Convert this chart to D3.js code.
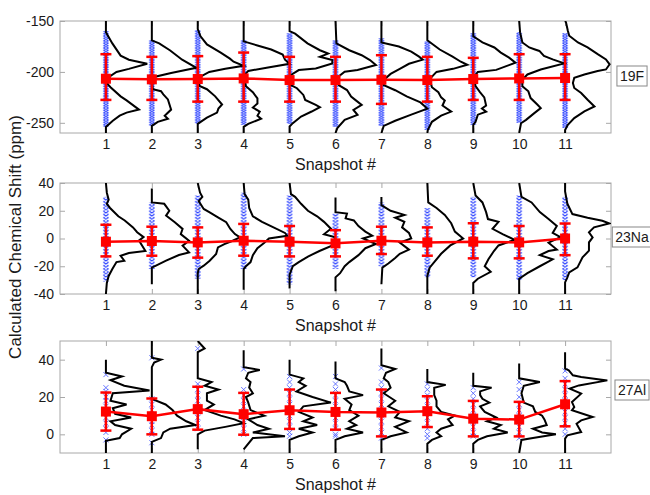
<!DOCTYPE html>
<html><head><meta charset="utf-8">
<script src="https://cdn.jsdelivr.net/npm/d3@7"></script>
<style>body{margin:0;background:#fff}text{font-family:"Liberation Sans",Arial,Helvetica,sans-serif}</style>
</head><body><svg id="c" width="650" height="495"></svg>
<script>
// ---------- DATA ----------
const snapshots = [1,2,3,4,5,6,7,8,9,10,11];
const xTickLabels = ["1","2","3","4","5","6","7","8","9","10","11"];
const xLabel = "Snapshot #";
const yLabel = "Calculated Chemical Shift (ppm)";
const nucleusLabels = ["19F","23Na","27Al"];
const yTicksF = [-150,-200,-250];
const yTicksNa = [40,20,0,-20,-40];
const yTicksAl = [0,20,40];

// 19F
const meanF  = [-206.7,-207.3,-207,-206.4,-208,-208,-207.7,-208,-207,-206.4,-206];
const errHiF = [-182.6,-185.2,-184.5,-181,-185.2,-185.2,-183.6,-185.2,-186.2,-182.6,-182.6];
const errLoF = [-227.5,-227.5,-229.2,-229.2,-229.2,-229.2,-231.4,-229.2,-227.5,-227.5,-227.5];
const blueTopF = [-160,-169,-159,-169,-162,-169,-167,-170,-162,-161,-162];
const blueBotF = [-254,-253,-251,-252,-251,-254,-253,-257,-252,-250,-255];
const histF = [
 [[-150,0],[-161,0],[-172,0.14],[-184,0.32],[-188,0.5],[-192,0.9],[-197,0.5],[-200,0.23],[-204,0.1],[-210,0],[-215,0.1],[-224,0.32],[-228,0.45],[-237,0.72],[-240,0.45],[-243,0.3],[-248,0.15],[-254,0],[-260,0]],
 [[-150,0],[-169,0],[-172,0.16],[-179,0.4],[-188,0.66],[-196,0.97],[-201,0.42],[-205,0.05],[-208,0],[-217,0.02],[-219,0.2],[-222,0.25],[-227,0.35],[-237,0.42],[-243,0.28],[-246,0.35],[-249,0.13],[-253,0],[-260,0]],
 [[-150,0],[-158,0],[-165,0.06],[-173,0.2],[-181,0.5],[-187,0.7],[-190,0.78],[-194,1.0],[-197,0.6],[-200,0.25],[-205,0.05],[-210,0],[-214,0.05],[-217,0.2],[-224,0.38],[-232,0.53],[-236,0.45],[-240,0.42],[-245,0.2],[-251,0],[-260,0]],
 [[-150,0],[-170,0],[-174,0.3],[-178,0.6],[-183,0.85],[-188,0.9],[-192,1.0],[-196,0.5],[-199,0.1],[-204,0],[-214,0.05],[-220,0.2],[-226,0.3],[-231,0.3],[-235,0.2],[-239,0.35],[-243,0.3],[-246,0.38],[-251,0.1],[-254,0],[-260,0]],
 [[-150,0],[-160,0],[-162.4,0.12],[-172,0.39],[-178.7,0.66],[-182,0.84],[-185.2,0.66],[-188.4,0.93],[-191.7,0.93],[-196.6,0.57],[-198.2,0.2],[-203,0.03],[-212.9,0.03],[-216,0.16],[-222.6,0.3],[-227.5,0.34],[-232.4,0.57],[-234.7,0.66],[-238.9,0.48],[-243.8,0.25],[-250.3,0.07],[-253.6,0],[-260,0]],
 [[-150,0],[-172,0.02],[-178.7,0.3],[-183.6,0.57],[-188.4,0.75],[-193.3,0.88],[-198.2,0.48],[-199.8,0.2],[-205.4,0.04],[-212.9,0.07],[-217.8,0.25],[-224.3,0.34],[-227.5,0.43],[-232.4,0.57],[-237.3,0.39],[-242.2,0.48],[-247.1,0.2],[-255.2,0.04],[-260,0]],
 [[-150,0],[-171,0],[-175,0.38],[-180,0.65],[-185,0.82],[-188,0.9],[-192,0.6],[-197,0.4],[-202,0.2],[-208,0.05],[-213,0.05],[-218,0.3],[-224,0.55],[-230,0.85],[-236,1.0],[-242,0.65],[-248,0.3],[-253,0.05],[-260,0]],
 [[-150,0],[-169,0],[-178,0.27],[-185,0.55],[-190,0.73],[-193,0.87],[-197,0.56],[-200,0.2],[-207,0.05],[-215,0.1],[-220,0.24],[-225,0.3],[-228,0.38],[-233,0.33],[-239,0.52],[-243,0.3],[-249,0.1],[-257,0.01],[-260,0]],
 [[-150,0],[-165,0],[-171,0.2],[-176,0.46],[-181,0.6],[-186,0.78],[-191,0.92],[-198,0.5],[-200,0.1],[-205,0.01],[-214,0.05],[-220,0.15],[-225,0.24],[-233,0.28],[-236,0.19],[-239,0.28],[-242,0.1],[-249,0.05],[-252,0],[-260,0]],
 [[-150,0],[-161.2,0.02],[-171.1,0.07],[-176,0.22],[-177.7,0.33],[-179.4,0.44],[-184.3,0.54],[-187.7,0.73],[-191.6,0.98],[-197.6,0.47],[-202.5,0.18],[-207.5,0.07],[-214.1,0.07],[-219.1,0.2],[-225.7,0.25],[-232.3,0.4],[-235.6,0.47],[-240.5,0.33],[-247.1,0.15],[-250.4,0.04],[-260,0]],
 [[-150,0],[-151.3,0.02],[-159.6,0.06],[-164.5,0.09],[-171.1,0.28],[-176,0.49],[-182.6,0.71],[-187.7,0.89],[-192.6,0.97],[-197.6,0.89],[-199.2,0.71],[-202.5,0.42],[-205.8,0.2],[-210.8,0.17],[-215.8,0.2],[-220.7,0.35],[-227.3,0.49],[-233.9,0.64],[-238.8,0.42],[-245.4,0.2],[-252,0.06],[-257,0],[-260,0]]
];

// 23Na
const meanNa  = [-2.3,-1.8,-2.8,-1.6,-2.3,-3.5,-1.6,-2.8,-2.3,-2.8,0];
const errHiNa = [9.9,8.5,8,10.5,9,6,8.5,8,11,9,10.8];
const errLoNa = [-12.9,-12.4,-13.8,-12.4,-12.9,-12.9,-11.2,-12.4,-14.3,-14.3,-12];
const blueTopNa = [30,26,31,33,31,18,26,22,30,31,30];
const blueBotNa = [-31,-22,-29,-22,-33,-22,-20,-28,-28,-30,-30];
const histNa = [
 [[40,0],[33,0.02],[28,0.06],[25,0.02],[22,0.09],[16,0.27],[13,0.41],[8,0.59],[4.5,0.68],[1,0.82],[-1.5,0.72],[-9,0.86],[-10.5,0.5],[-12.5,0.32],[-16,0.4],[-17,0.23],[-22,0.14],[-27,0.06],[-32,0.02],[-40,0]],
 [[36,0],[26,0],[25,0.27],[20,0.38],[16.5,0.31],[11.7,0.5],[6.9,0.67],[3.2,0.63],[-1.6,0.81],[-5.2,0.67],[-10,0.81],[-11.9,0.59],[-16,0.31],[-19.6,0.09],[-21,0],[-33,0]],
 [[40,0],[33,0.05],[30,0.1],[27,0.02],[21.3,0.13],[18.9,0.26],[15.3,0.44],[11.7,0.62],[6.9,0.71],[3.2,0.81],[0.8,0.92],[-1.6,0.76],[-4,0.58],[-6.4,0.44],[-11.2,0.4],[-16,0.26],[-19.6,0.13],[-22,0.02],[-25,0],[-40,0]],
 [[40,0],[32,0.02],[28,0.1],[22,0.12],[16,0.2],[12,0.4],[8,0.65],[4,0.9],[2,0.95],[0,0.55],[-3,0.45],[-7,0.3],[-12,0.2],[-17,0.15],[-20,0.05],[-22,0],[-37,0]],
 [[40,0],[32,0.03],[30,0.12],[25,0.25],[20,0.4],[16,0.6],[12,0.75],[7,0.9],[3,0.75],[1,0.98],[-4,1.0],[-9,0.65],[-13,0.4],[-17,0.2],[-20,0.07],[-26,0],[-36,0]],
 [[29.5,0],[19,0],[18,0.25],[14.5,0.22],[13,0.4],[9,0.5],[5,0.65],[2,0.8],[0,0.6],[-4,0.88],[-7,0.65],[-12,0.5],[-17,0.3],[-20,0.2],[-25,0.1],[-28,0],[-38,0]],
 [[30,0],[24,0],[20,0.2],[17,0.5],[15,0.3],[12,0.5],[8,0.45],[4,0.6],[0,0.65],[-3,0.4],[-8,0.6],[-11,0.4],[-14,0.3],[-18,0.15],[-21,0.02],[-33,0]],
 [[40,0],[26,0.02],[22,0.2],[17,0.38],[11,0.52],[5,0.6],[0,0.78],[-5,0.5],[-11,0.3],[-17,0.15],[-21,0.05],[-27,0],[-40,0]],
 [[40,0],[31,0.05],[26,0.2],[19,0.28],[14,0.32],[12,0.55],[7,0.42],[3,0.65],[-1,0.9],[-5,0.55],[-9,0.45],[-15,0.33],[-20,0.25],[-24,0.38],[-29,0.1],[-32,0],[-40,0]],
 [[40,0],[30,0.05],[26,0.27],[19,0.45],[14,0.64],[9,0.82],[4,0.73],[1,0.9],[-3,0.64],[-8,0.82],[-9,0.64],[-12,0.45],[-15,0.73],[-20,0.45],[-25,0.18],[-29,0],[-40,0]],
 [[40,0],[34,0],[25,0.05],[17.6,0.16],[15,0.49],[12.8,0.81],[10.9,0.96],[8,0.63],[4.4,0.52],[0.8,0.6],[-2.8,0.52],[-8.8,0.52],[-13.6,0.38],[-20.8,0.27],[-24.4,0.09],[-28,0.05],[-31.6,0],[-40,0]]
];

// 27Al
const meanAl  = [12.2,9.7,13.5,10.8,12.9,12,11.7,12.4,8.4,7.9,16.1];
const errHiAl = [22.4,19.2,25.5,22.2,24,22.2,24,20.4,17.9,17.4,28.5];
const errLoAl = [2,0,2.5,-0.2,2.9,2.5,-1.1,3.9,-1.1,-1.1,4.3];
const blueAl = [
 [32,25,23,20,18,15,12,9,6,3,1,-3],
 [41,19,16,13,10,7,5,2,0,-4.5],
 [46,27,24,21,18,15,12,9,6,3],
 [35,24,21,18,15,12,9,6,3,0],
 [31,28,25,22,19,16,13,10,7,4,1,-1],
 [31,27,24,21,18,15,12,9,6,3,0,-1],
 [35.5,28,25,22,19,16,13,10,7,4,1,-2],
 [27,24,21,18,15,12,9,6,3,0,-2],
 [25,22,19,16,13,10,7,4,1,-1],
 [28,24,20,16,13,10,7,4,1,-2],
 [34,30,27,24,21,18,15,12,9,6,3,0]
];
const histAl = [
 [[40,0],[33,0],[31,0.35],[29,0.1],[26,0.4],[23.5,0.95],[22,0.15],[18,0.1],[16,0.45],[14,0.15],[11,0.2],[9,0.55],[7,0.1],[5,0.2],[3,0.55],[0,0.35],[-2,0.3],[-3.5,0],[-10,0]],
 [[50,0],[41,0],[40,0.2],[38.5,0.05],[36,0],[19,0],[16,0.3],[13,0.45],[10,0.55],[7,0.75],[5,0.95],[3,0.4],[1,0.25],[-2,0.2],[-4,0],[-10,0]],
 [[50,0],[46,0.15],[44,0],[30,0],[28,0.3],[26,0.15],[24,0.45],[22,0.2],[18,0.2],[16,0.35],[13,0.15],[10,0.5],[8,0.8],[6,1.0],[4,0.6],[2,0.15],[0,0],[-8,0]],
 [[45,0],[36,0],[34.5,0.35],[33,0.1],[30,0.05],[28,0.15],[25,0.12],[22,0.2],[20,0.05],[17,0.1],[13,0.15],[10,0.45],[8,0.1],[5,0.3],[3,0.55],[1,0.2],[-1,0.9],[-2,0.2],[-8,0]],
 [[40,0],[32,0],[30,0.3],[28,0.2],[26,0.35],[23,0.15],[20,0.5],[17,0.9],[15,0.3],[12,0.2],[9,0.5],[7,0.3],[5,0.6],[3,0.2],[1,0.5],[-1,0.2],[-3,0],[-10,0]],
 [[39,0],[30,0],[28,0.2],[26,0.25],[23,0.3],[21,0.6],[19,0.2],[16,0.35],[13,0.3],[10,0.5],[7,0.3],[5,0.45],[3,0.25],[1,0.6],[-1,0.2],[-3,0],[-10,0]],
 [[46,0],[37,0],[35,0.3],[33,0.1],[30,0.05],[28,0.15],[25,0.2],[22,0.05],[18,0.3],[15,0.15],[12,0.4],[9,0.3],[7,0.6],[4,0.3],[1,0.55],[-1,0.2],[-3,0],[-10,0]],
 [[35,0],[28,0],[26.5,0.4],[25,0.15],[21,0.15],[18,0.2],[15,0.2],[12,0.3],[10,0.6],[8,0.45],[5,0.55],[3,0.3],[1,0.2],[-1,0.3],[-3,0.1],[-5,0],[-10,0]],
 [[33,0],[26,0],[25,0.4],[23,0.15],[21,0.15],[19,0.2],[17,0.35],[15,0.15],[12,0.25],[9,0.5],[7,0.3],[5,0.6],[3,0.45],[1,0.75],[-1,0.3],[-3,0.1],[-5,0],[-10,0]],
 [[38,0],[30,0],[28,0.45],[26,0.1],[22,0.05],[17,0.1],[15,0.3],[12,0.35],[10,0.5],[8,0.55],[5,0.6],[3,0.3],[1,0.5],[0,0.8],[-2,0.3],[-3,0.05],[-10,0]],
 [[44,0],[35.2,0],[34.3,0.08],[31.6,0.17],[30.7,0.35],[28.9,0.92],[26.2,0.3],[24.5,0.1],[21.8,0.35],[17.3,0.15],[14.6,0.2],[12.9,0.15],[9.3,0.6],[7.5,0.35],[5.7,0.25],[1.2,0.35],[-0.5,0.05],[-2.3,0],[-10,0]]
];

// ---------- LAYOUT ----------
const svg = d3.select("#c");
const x = d3.scaleLinear().domain([0,12]).range([60,611]);
const axisGray = "#a8a8a8";
const red = "#ff0000", blue = "#1f36ff";

const panels = [
 {top:21, bottom:133, domain:[-260,-150], ticks:yTicksF, hist:histF, mean:meanF, hi:errHiF, lo:errLoF, bTop:blueTopF, bBot:blueBotF, label:nucleusLabels[0], labelY:76, dens:2.4},
 {top:183, bottom:294, domain:[-40,40], ticks:yTicksNa, hist:histNa, mean:meanNa, hi:errHiNa, lo:errLoNa, bTop:blueTopNa, bBot:blueBotNa, label:nucleusLabels[1], labelY:237, dens:3.2},
 {top:341, bottom:453, domain:[-10,50], ticks:yTicksAl, hist:histAl, mean:meanAl, hi:errHiAl, lo:errLoAl, blueList:blueAl, label:nucleusLabels[2], labelY:390}
];

const defs = svg.append("defs");

panels.forEach((p, pi) => {
  const y = d3.scaleLinear().domain(p.domain).range([p.bottom, p.top]);
  const g = svg.append("g");
  const clipId = "clip" + pi;
  defs.append("clipPath").attr("id", clipId).append("rect")
    .attr("x", x.range()[0]).attr("y", p.top).attr("width", x.range()[1]-x.range()[0]).attr("height", p.bottom-p.top);

  const mkAxis = (ax, tr) => {
    const a = g.append("g").attr("transform", tr).call(ax);
    a.select(".domain").remove();
    a.selectAll(".tick line").attr("stroke", axisGray);
    a.selectAll(".tick text").attr("fill", "#1a1a1a").style("font-size", "14px")
      .style("font-family", '"Liberation Sans",Arial,sans-serif');
    return a;
  };
  mkAxis(d3.axisLeft(y).tickValues(p.ticks).tickSize(-5).tickPadding(6).tickFormat(d => String(d)), `translate(${x.range()[0]},0)`);
  mkAxis(d3.axisRight(y).tickValues(p.ticks).tickSize(-5).tickFormat(""), `translate(${x.range()[1]},0)`);
  mkAxis(d3.axisBottom(x).tickValues(snapshots).tickSize(-5).tickPadding(6).tickFormat((d,i)=>xTickLabels[i]), `translate(0,${p.bottom})`);
  mkAxis(d3.axisTop(x).tickValues(snapshots).tickSize(-5).tickFormat(""), `translate(0,${p.top})`);

  g.append("rect").attr("x", x.range()[0]).attr("y", p.top)
    .attr("width", x.range()[1]-x.range()[0]).attr("height", p.bottom-p.top)
    .attr("fill", "none").attr("stroke", axisGray).attr("stroke-width", 1);

  const plot = g.append("g").attr("clip-path", `url(#${clipId})`);

  // blue scatter of individual shifts
  if (p.blueList) {
    p.blueList.forEach((vals, i) => {
      const cx = x(snapshots[i]);
      vals.forEach(v => {
        const cy = y(v);
        plot.append("path").attr("d", `M${cx-2.5},${cy-2.5}L${cx+2.5},${cy+2.5}M${cx+2.5},${cy-2.5}L${cx-2.5},${cy+2.5}`)
          .attr("stroke", blue).attr("stroke-width", 0.9).attr("opacity", 0.75);
      });
    });
  } else {
    snapshots.forEach((s, i) => {
      const cx = x(s);
      const pid = `bp${pi}_${i}`;
      const pat = defs.append("pattern").attr("id", pid).attr("patternUnits", "userSpaceOnUse")
        .attr("x", cx-3).attr("y", 0).attr("width", 6).attr("height", p.dens);
      pat.append("path").attr("d", `M0.5,0.2L5.5,${p.dens-0.2}M5.5,0.2L0.5,${p.dens-0.2}`)
        .attr("stroke", blue).attr("stroke-width", 1).attr("fill", "none");
      plot.append("rect").attr("x", cx-3).attr("width", 6)
        .attr("y", y(p.bTop[i])).attr("height", y(p.bBot[i]) - y(p.bTop[i]))
        .attr("fill", `url(#${pid})`);
    });
  }

  // histograms (black)
  const line = d3.line().x(d => d[0]).y(d => d[1]);
  p.hist.forEach((h, i) => {
    const pts = h.map(([v, a]) => [x(snapshots[i] + a), y(v)]);
    plot.append("path").attr("d", line(pts)).attr("fill", "none")
      .attr("stroke", "#000").attr("stroke-width", 2).attr("stroke-linejoin", "miter");
  });

  // error bars
  snapshots.forEach((s, i) => {
    const cx = x(s);
    plot.append("line").attr("x1", cx).attr("x2", cx).attr("y1", y(p.hi[i])).attr("y2", y(p.lo[i]))
      .attr("stroke", red).attr("stroke-width", 2.5);
    [p.hi[i], p.lo[i]].forEach(v => {
      plot.append("line").attr("x1", cx-5.5).attr("x2", cx+5.5).attr("y1", y(v)).attr("y2", y(v))
        .attr("stroke", red).attr("stroke-width", 2.5);
    });
  });
  plot.append("path").attr("d", d3.line().x((d,i)=>x(snapshots[i])).y(d=>y(d))(p.mean))
    .attr("fill", "none").attr("stroke", red).attr("stroke-width", 2.5);
  plot.selectAll(null).data(p.mean).join("rect")
    .attr("x", (d,i)=>x(snapshots[i])-5).attr("y", d=>y(d)-5).attr("width", 10).attr("height", 10)
    .attr("fill", red);

  // x axis title
  g.append("text").attr("x", (x.range()[0]+x.range()[1])/2).attr("y", p.bottom + 37)
    .attr("text-anchor", "middle").style("font-size", "16px").attr("fill", "#1a1a1a").text(xLabel);

  // nucleus label box
  const box = g.append("rect");
  const lt = g.append("text").attr("x", 632).attr("y", p.labelY + 5)
    .attr("text-anchor", "middle").style("font-size", "14px").attr("fill", "#1a1a1a").text(p.label);
  const bb = lt.node().getBBox();
  box.attr("x", bb.x - 3).attr("y", p.labelY - 10)
    .attr("width", bb.width + 6).attr("height", 20).attr("fill", "#fff").attr("stroke", "#888").attr("stroke-width", 1);
});

// y axis title
svg.append("text").attr("transform", `translate(21,237) rotate(-90)`)
  .attr("text-anchor", "middle").style("font-size", "17px").attr("fill", "#1a1a1a").text(yLabel);
</script></body></html>
